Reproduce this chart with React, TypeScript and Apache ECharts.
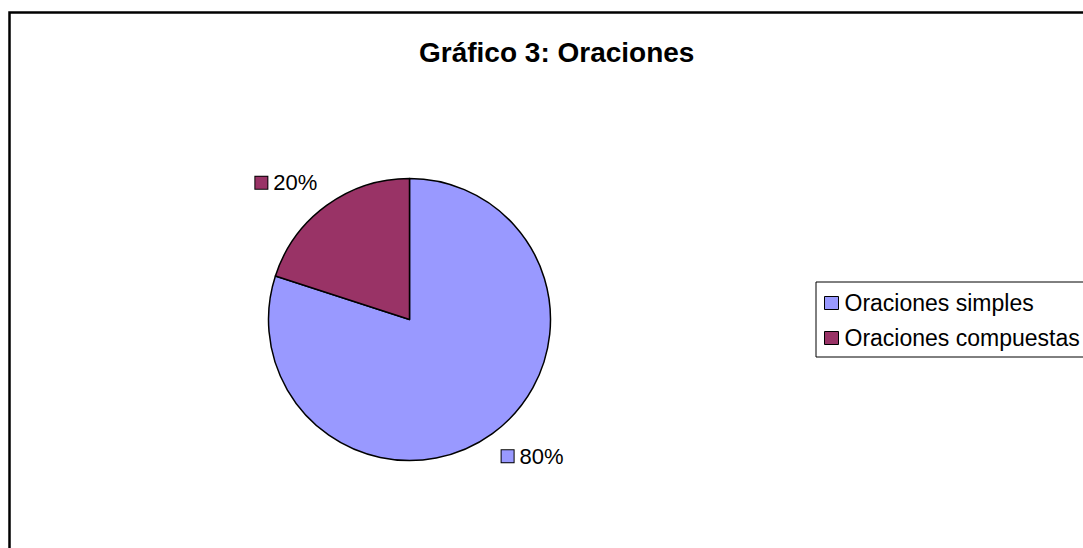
import React, { useEffect, useRef } from "react";
import * as echarts from "echarts";

const titleText = "Gráfico 3: Oraciones";
const categories = ["Oraciones simples", "Oraciones compuestas"];
const values = [80, 20];
const colors = ["#9999FF", "#993366"];

const CX = 409.5;
const CY = 319.5;
const R = 141;

export default function App() {
  const ref = useRef<HTMLDivElement>(null);
  useEffect(() => {
    if (!ref.current) return;
    const chart = echarts.init(ref.current, null, { renderer: "svg" });
    const total = values.reduce((a, b) => a + b, 0);
    const mids: number[] = [];
    let acc = 0;
    values.forEach((v) => {
      mids.push(((acc + v / 2) / total) * 360);
      acc += v;
    });
    const font = "'Liberation Sans', Arial, sans-serif";
    chart.setOption({
      animation: false,
      backgroundColor: "#ffffff",
      title: {
        text: titleText,
        left: 414,
        top: 33,
        textStyle: { fontFamily: font, fontSize: 28, fontWeight: "bold", color: "#000" },
      },
      legend: {
        orient: "vertical",
        left: 816,
        top: 282,
        padding: [8, 10, 6, 8],
        borderColor: "#000",
        borderWidth: 1,
        itemWidth: 14,
        itemHeight: 13,
        itemGap: 9,
        icon: "rect",
        itemStyle: { borderColor: "#000", borderWidth: 1 },
        textStyle: { fontFamily: font, fontSize: 23, color: "#000", lineHeight: 26, padding: [0, 0, 0, 1] },
        data: categories,
      },
      graphic: [
        {
          type: "rect",
          shape: { x: 9.5, y: 12.5, width: 1100, height: 560 },
          style: { fill: "none", stroke: "#000", lineWidth: 2.5 },
          silent: true,
        },
      ],
      series: [
        {
          type: "pie",
          center: [CX, CY],
          radius: R,
          startAngle: 90,
          clockwise: true,
          data: categories.map((c, i) => ({ name: c, value: values[i], itemStyle: { color: colors[i] } })),
          itemStyle: { borderColor: "#000", borderWidth: 1.5 },
          labelLine: { show: false },
          label: {
            show: true,
            position: "outside",
            formatter: (p: any) => "{m|}{t|" + Math.round(p.percent) + "%}",
            rich: {
              m: {
                width: 12,
                height: 12,
                backgroundColor: "inherit",
                borderColor: "#000",
                borderWidth: 1,
              },
              t: { fontFamily: font, fontSize: 22, color: "#000", padding: [0, 0, 0, 6] },
            },
          },
          labelLayout: (params: any) => {
            const i = params.dataIndex;
            const ang = ((mids[i] - 6) * Math.PI) / 180;
            const d = R + 43;
            return {
              x: CX + d * Math.sin(ang),
              y: CY - d * Math.cos(ang),
              align: "center",
              verticalAlign: "middle",
            };
          },
        },
      ],
    });
    return () => chart.dispose();
  }, []);
  return <div ref={ref} style={{ position: "fixed", left: 0, top: 0, width: 1083, height: 548 }} />;
}
